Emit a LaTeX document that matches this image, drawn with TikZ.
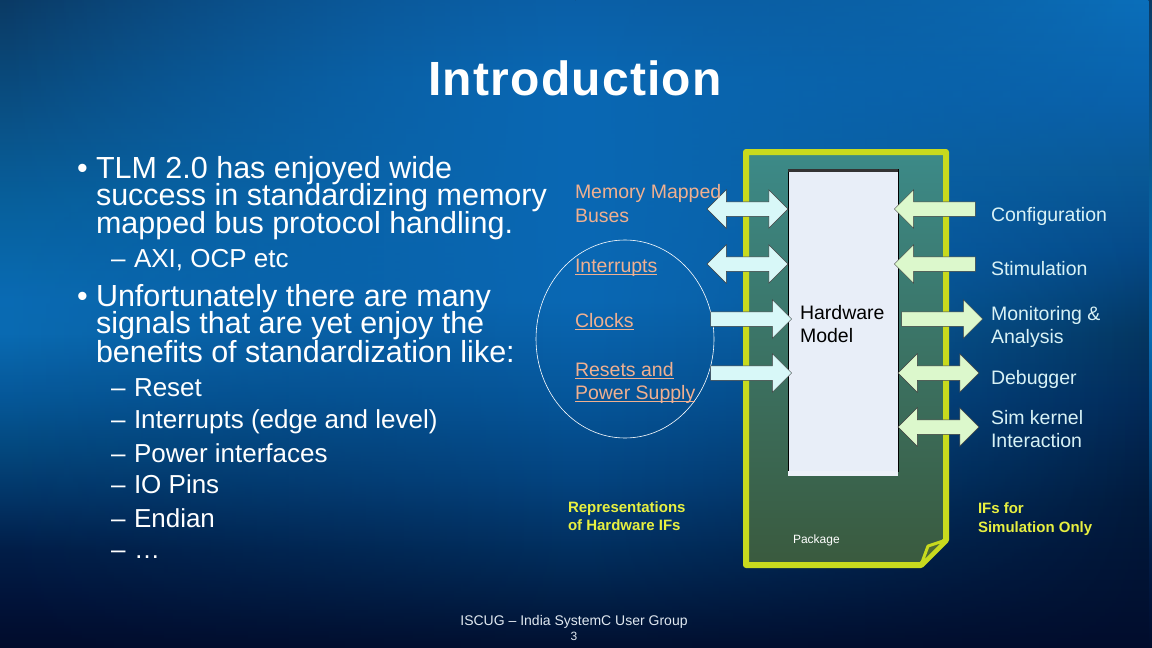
\documentclass[tikz,border=0pt]{standalone}
\usepackage{fontspec}
\setmainfont{Liberation Sans}
\usetikzlibrary{shapes.arrows,shapes.geometric,fadings}
% left-edge profile
\definecolor{La}{HTML}{010C2C}\definecolor{Lb}{HTML}{01143A}\definecolor{Lc}{HTML}{021E48}
\definecolor{Ld}{HTML}{033466}\definecolor{Le}{HTML}{04487E}\definecolor{Lf}{HTML}{065898}
\definecolor{Lg}{HTML}{0A6CB4}\definecolor{Lh}{HTML}{07609C}\definecolor{Li}{HTML}{0A4A7C}
\definecolor{Lj}{HTML}{0B3A64}
% right-edge profile
\definecolor{Ra}{HTML}{010C2C}\definecolor{Rb}{HTML}{011A3C}\definecolor{Rc}{HTML}{022A58}
\definecolor{Rd}{HTML}{043660}\definecolor{Re}{HTML}{054A88}\definecolor{Rf}{HTML}{0A5A98}
\definecolor{Rg}{HTML}{0962AC}\definecolor{Rh}{HTML}{0A70BC}
% centre profile
\definecolor{Ca}{HTML}{011030}\definecolor{Cb}{HTML}{022C5A}\definecolor{Cc}{HTML}{044480}
\definecolor{Cd}{HTML}{06569A}\definecolor{Ce}{HTML}{0A68B4}\definecolor{Cf}{HTML}{0A60A8}
\pgfdeclareverticalshading{profL}{100bp}{color(0bp)=(La); color(25bp)=(La); color(28.7bp)=(Lb); color(32.56bp)=(Lc); color(36.42bp)=(Ld); color(40.28bp)=(Le); color(44.14bp)=(Lf); color(49.31bp)=(Lg); color(51.85bp)=(Lg); color(59.57bp)=(Lh); color(68.6bp)=(Li); color(75bp)=(Lj); color(100bp)=(Lj)}
\pgfdeclareverticalshading{profR}{100bp}{color(0bp)=(Ra); color(25bp)=(Ra); color(36.42bp)=(Rb); color(44.14bp)=(Rc); color(49.31bp)=(Rd); color(55.71bp)=(Re); color(62.11bp)=(Rf); color(67.28bp)=(Rg); color(75bp)=(Rh); color(100bp)=(Rh)}
\pgfdeclareverticalshading{profC}{100bp}{color(0bp)=(Ca); color(25bp)=(Ca); color(31.79bp)=(Cb); color(37.96bp)=(Cc); color(44.14bp)=(Cd); color(51.85bp)=(Ce); color(68.83bp)=(Ce); color(75bp)=(Cf); color(100bp)=(Cf)}
\definecolor{pkgT}{HTML}{3C8A88}
\definecolor{pkgB}{HTML}{3A5A3E}
\definecolor{pkgline}{HTML}{C8DA1E}
\definecolor{foldc}{HTML}{4E6A34}
\definecolor{hwfill}{HTML}{E8EEF8}
\definecolor{lcyan}{HTML}{D8F8F8}
\definecolor{lgreen}{HTML}{DCF8CC}
\definecolor{salmon}{HTML}{F0B090}
\definecolor{paletxt}{HTML}{D8F2F6}
\definecolor{yel}{HTML}{E8F040}
\definecolor{foot}{HTML}{E0E8F0}
\newcommand\myul[1]{\setbox0\hbox{#1}\rlap{\rule[-2.5pt]{\wd0}{1pt}}#1}
\begin{document}
\begin{tikzpicture}[x=1pt,y=-1pt,
  every node/.style={inner sep=0pt, outer sep=0pt},
  txt/.style={anchor=base west, text=white},
  bigtxt/.style={txt, font=\fontsize{30.5}{30}\selectfont},
  subtxt/.style={txt, font=\fontsize{26}{30}\selectfont},
  lbl/.style={anchor=base west, font=\fontsize{19.5}{22}\selectfont},
  lefttxt/.style={lbl, text=salmon},
  righttxt/.style={lbl, text=paletxt},
  yeltxt/.style={anchor=base west, text=yel, font=\bfseries\fontsize{15}{18}\selectfont},
  arrbase/.style={draw=black!75, line width=0.5pt, inner xsep=0pt, inner ysep=7pt, minimum height=81pt, minimum width=1pt},
  sarr/.style={arrbase, single arrow, single arrow head extend=12pt},
  darr/.style={arrbase, double arrow, double arrow head extend=12pt},
  hwbox/.style={draw=black, line width=0.8pt, fill=hwfill, minimum width=110pt, minimum height=302pt}
]
\useasboundingbox (0,0) rectangle (1152,648);
\begin{scope}
\clip (0,0) rectangle (1152,648);
\shade[shading=profL] (0,0) rectangle (1152,648);
\shade[shading=profR, path fading=west] (0,0) rectangle (1152,648);
\shade[shading=profC, path fading=west] (0,0) rectangle (576,648);
\shade[shading=profC, path fading=east] (576,0) rectangle (1152,648);
\end{scope}

% title
\node[text=white, font=\bfseries\fontsize{48}{50}\selectfont\addfontfeatures{LetterSpace=2.5}] (title) at (575,78) {Introduction};

% left bullets
\node[bigtxt] (b1) at (77,178) {\textbullet};
\node[bigtxt] (t1) at (96,178) {TLM 2.0 has enjoyed wide};
\node[bigtxt] (t2) at (96,205) {success in standardizing memory};
\node[bigtxt] (t3) at (96,233) {mapped bus protocol handling.};
\node[subtxt] (d0) at (111,267) {--};
\node[subtxt] (s0) at (134,267) {AXI, OCP etc};
\node[bigtxt] (b2) at (77,306) {\textbullet};
\node[bigtxt] (t4) at (96,306) {Unfortunately there are many};
\node[bigtxt] (t5) at (96,333) {signals that are yet enjoy the};
\node[bigtxt] (t6) at (96,362) {benefits of standardization like:};
\node[subtxt] (d1) at (111,396) {--};
\node[subtxt] (s1) at (134,396) {Reset};
\node[subtxt] (d2) at (111,428) {--};
\node[subtxt] (s2) at (134,428) {Interrupts (edge and level)};
\node[subtxt] (d3) at (111,462) {--};
\node[subtxt] (s3) at (134,462) {Power interfaces};
\node[subtxt] (d4) at (111,493) {--};
\node[subtxt] (s4) at (134,493) {IO Pins};
\node[subtxt] (d5) at (111,527) {--};
\node[subtxt] (s5) at (134,527) {Endian};
\node[subtxt] (d6) at (111,558) {--};
\node[subtxt] (s6) at (134,558) {\dots};

% grouping ellipse
\node[ellipse, draw=white, line width=0.6pt, minimum width=178pt, minimum height=198pt] (grp) at (625,339) {};

% package
\path[top color=pkgT, bottom color=pkgB] (746,152) -- (946,152) -- (946,540) -- (921,565) -- (746,565) -- cycle;
\draw[pkgline, line width=6pt, line join=round] (746,152) -- (946,152) -- (946,540) -- (921,565) -- (746,565) -- cycle;
\filldraw[fill=foldc, draw=pkgline, line width=3pt, line join=round] (921,565) -- (928,546) -- (946,540) -- cycle;
\node[anchor=base west, text=white, font=\fontsize{12}{14}\selectfont] (pkg) at (793,543) {Package};

% hardware model
\node[hwbox] (hw) at (843,320) {};
\draw[black!80, line width=3pt] ([yshift=-1.5pt]hw.north west) -- ([yshift=-1.5pt]hw.north east);
\fill[hwfill!80!white] (hw.south west) rectangle ([yshift=-5pt]hw.south east);
\node[anchor=base west, text=black, font=\fontsize{19.5}{22}\selectfont] (hwt1) at (800,319) {Hardware};
\node[anchor=base west, text=black, font=\fontsize{19.5}{22}\selectfont] (hwt2) at (800,342) {Model};

% left arrows
\node[darr, fill=lcyan] (amem) at (747.5,209) {};
\node[darr, fill=lcyan] (aint) at (747.5,264) {};
\node[sarr, fill=lcyan] (aclk) at (747.5,319) {};
\node[sarr, fill=lcyan] (arst) at (747.5,373) {};

% right arrows
\node[sarr, fill=lgreen, shape border rotate=180] (acfg) at (938.5,209) {};
\node[sarr, fill=lgreen, shape border rotate=180] (astm) at (938.5,264) {};
\node[sarr, fill=lgreen] (amon) at (938.5,319) {};
\node[darr, fill=lgreen] (adbg) at (938.5,373) {};
\node[darr, fill=lgreen] (asim) at (938.5,427) {};

% left labels
\node[lefttxt] (lmem1) at (575,198) {Memory Mapped};
\node[lefttxt] (lmem2) at (575,222) {Buses};
\node[lefttxt] (lint) at (575,272) {\myul{Interrupts}};
\node[lefttxt] (lclk) at (575,327) {\myul{Clocks}};
\node[lefttxt] (lrst1) at (575,376) {\myul{Resets and}};
\node[lefttxt] (lrst2) at (575,399) {\myul{Power Supply}};

% right labels
\node[righttxt] (rcfg) at (991,221) {Configuration};
\node[righttxt] (rstm) at (991,275) {Stimulation};
\node[righttxt] (rmon1) at (991,320) {Monitoring \&};
\node[righttxt] (rmon2) at (991,343) {Analysis};
\node[righttxt] (rdbg) at (991,384) {Debugger};
\node[righttxt] (rsim1) at (991,424) {Sim kernel};
\node[righttxt] (rsim2) at (991,447) {Interaction};

% yellow captions
\node[yeltxt] (rep1) at (568,512) {Representations};
\node[yeltxt] (rep2) at (568,530) {of Hardware IFs};
\node[yeltxt] (ifs1) at (978,513) {IFs for};
\node[yeltxt] (ifs2) at (978,532) {Simulation Only};

% footer
\node[anchor=base, text=foot, font=\fontsize{14}{16}\selectfont] (ft1) at (574,625) {ISCUG -- India SystemC User Group};
\node[anchor=base, text=foot, font=\fontsize{12}{14}\selectfont] (ft2) at (574,640) {3};
\end{tikzpicture}
\end{document}
